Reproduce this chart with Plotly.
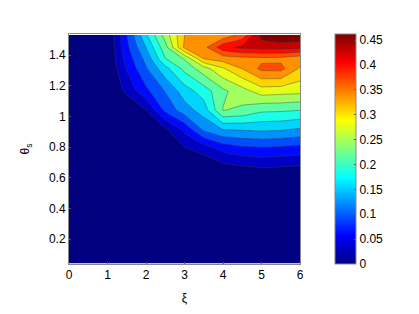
import plotly.graph_objects as go

xi = [0, 0.5, 1, 1.5, 2, 2.5, 3, 3.5, 4, 4.5, 5, 5.5, 6]
theta = [0.04, 0.165, 0.29, 0.415, 0.54, 0.665, 0.79, 0.915, 1.04, 1.165, 1.312, 1.377, 1.45, 1.53]

row_004 = [0] * 13
row_017 = [0] * 13
row_029 = [0] * 13
row_042 = [0] * 13
row_054 = [0] * 13
row_067 = [0, 0, 0, 0, 0, 0, 0, 0, 0.018, 0.025, 0.031, 0.028, 0.025]
row_079 = [0, 0, 0, 0, 0, 0, 0.028, 0.045, 0.072, 0.085, 0.088, 0.085, 0.08]
row_092 = [0, 0, 0, 0, 0.005, 0.025, 0.07, 0.13, 0.155, 0.158, 0.16, 0.158, 0.15]
row_104 = [0, 0, 0, 0, 0.03, 0.1, 0.14, 0.168, 0.248, 0.24, 0.222, 0.22, 0.216]
row_117 = [0, 0, 0, 0.038, 0.085, 0.125, 0.17, 0.2, 0.24, 0.265, 0.293, 0.29, 0.287]
row_131 = [0, 0, 0, 0.065, 0.12, 0.175, 0.225, 0.265, 0.305, 0.34, 0.378, 0.38, 0.335]
row_138 = [0, 0, 0, 0.075, 0.133, 0.215, 0.25, 0.34, 0.355, 0.36, 0.362, 0.362, 0.35]
row_145 = [0, 0, 0, 0.085, 0.155, 0.235, 0.345, 0.36, 0.42, 0.44, 0.445, 0.445, 0.44]
row_153 = [0, 0, 0, 0.092, 0.18, 0.26, 0.339, 0.345, 0.35, 0.38, 0.475, 0.49, 0.49]
z = [row_004, row_017, row_029, row_042, row_054, row_067, row_079, row_092,
     row_104, row_117, row_131, row_138, row_145, row_153]

level_step = 0.4625 / 15
color_top = 0.4625
cbar_ticks = [0, 0.05, 0.1, 0.15, 0.2, 0.25, 0.3, 0.35, 0.4, 0.45]
cbar_labels = ["0", "0.05", "0.1", "0.15", "0.2", "0.25", "0.3", "0.35", "0.4", "0.45"]
x_ticks = [0, 1, 2, 3, 4, 5, 6]
y_ticks = [0.2, 0.4, 0.6, 0.8, 1, 1.2, 1.4]
y_labels = ["0.2", "0.4", "0.6", "0.8", "1", "1.2", "1.4"]

jet = [[0, "#000080"], [0.125, "#0000ff"], [0.375, "#00ffff"],
       [0.625, "#ffff00"], [0.875, "#ff0000"], [1, "#800000"]]

font = dict(family="Liberation Sans, Arial, sans-serif", size=12, color="#000000")

fig = go.Figure()
fig.add_trace(go.Contour(
    x=xi, y=theta, z=z, zmin=level_step / 2, zmax=color_top + level_step / 2, colorscale=jet,
    showscale=False,
    contours=dict(start=level_step, end=color_top, size=level_step, coloring="fill"),
    line=dict(color="rgba(60,60,60,0.6)", width=0.7, smoothing=0),
))
fig.add_trace(go.Scatter(
    x=[None], y=[None], mode="markers", showlegend=False,
    marker=dict(
        color=[0], cmin=0, cmax=color_top, colorscale=jet, showscale=True,
        colorbar=dict(
            x=1.151, xanchor="left", xpad=0, y=0, yanchor="bottom", ypad=0, len=1,
            thickness=21, tickvals=cbar_ticks, ticktext=cbar_labels, ticks="inside",
            ticklen=2, tickcolor="#555555", outlinecolor="#888888", outlinewidth=1,
            tickfont=font,
        ),
    ),
))
fig.update_layout(
    width=411, height=306, margin=dict(l=61, r=119, t=26, b=50),
    paper_bgcolor="white", plot_bgcolor="white", font=font,
    xaxis=dict(range=[0, 6], tickvals=x_ticks, ticks="inside", ticklen=2, tickcolor="#555555",
               showgrid=False, zeroline=False, showline=True, linecolor="#888888", mirror=True,
               title=dict(text="ξ", standoff=12, font=font)),
    yaxis=dict(range=[0.037, 1.537], tickvals=y_ticks, ticktext=y_labels, ticks="inside", ticklen=2,
               tickcolor="#555555", showgrid=False, zeroline=False, showline=True, linecolor="#888888",
               mirror=True, title=dict(text="θ<sub>s</sub>", standoff=16, font=font)),
)
fig.write_html("out.html")
